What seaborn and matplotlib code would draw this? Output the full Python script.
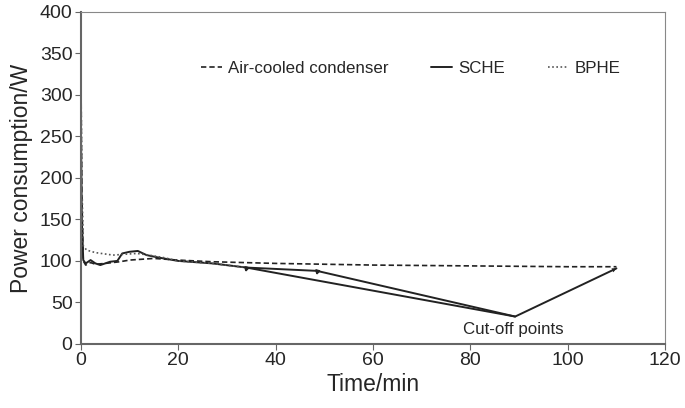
import numpy as np
import pandas as pd
import seaborn as sns
import matplotlib.pyplot as plt

# readings
air_t = [0, 0.2, 0.5, 1, 2, 3, 5, 8, 10, 15, 20, 27, 40, 60, 80, 100, 110]
air_p = [350, 180, 100, 95, 98, 96, 97, 99, 101, 103, 101, 99, 97, 95, 94, 93, 93]

sche_t = [0, 0.2, 0.5, 1, 2, 3, 4, 6, 7.5, 8.5, 10, 11.7, 13.5, 16, 20, 27, 34, 48.5, 89.2, 110]
sche_p = [270, 150, 101, 97, 101, 97, 95, 99, 100, 109, 111, 112, 107, 104, 100, 97, 92, 88, 33, 91]

bphe_t = [0, 0.2, 0.5, 1.2, 3, 6.6, 9, 11.5, 14, 17, 20, 27, 34]
bphe_p = [330, 200, 118, 113, 110, 107, 108, 109, 107, 104, 100, 97, 92]

# second cut-off branch (drawn solid)
cut_t = [34, 89.2]
cut_p = [92, 33]

sns.set_style("white")
plt.rcParams["font.family"] = ["Liberation Sans", "DejaVu Sans"]

fig = plt.figure(figsize=(6.85, 4.08), dpi=100)
ax = fig.add_axes([0.118, 0.157, 0.853, 0.814])

col = "#222222"
df_air = pd.DataFrame({"t": air_t, "p": air_p})
df_sche = pd.DataFrame({"t": sche_t, "p": sche_p})
df_bphe = pd.DataFrame({"t": bphe_t, "p": bphe_p})
df_cut = pd.DataFrame({"t": cut_t, "p": cut_p})

sns.lineplot(data=df_air, x="t", y="p", ax=ax, color=col, lw=1.2,
             linestyle=(0, (3.2, 1.8)), sort=False, label="Air-cooled condenser")
sns.lineplot(data=df_sche, x="t", y="p", ax=ax, color=col, lw=1.4,
             sort=False, label="SCHE")
sns.lineplot(data=df_bphe, x="t", y="p", ax=ax, color="#555555", lw=1.2,
             linestyle=(0, (1, 1.5)), sort=False, label="BPHE")
sns.lineplot(data=df_cut, x="t", y="p", ax=ax, color=col, lw=1.4,
             sort=False, legend=False)

# small arrow heads at the cut-off markers
ax.annotate("", xy=(sche_t[-1], sche_p[-1]), xytext=(sche_t[-2], sche_p[-2]),
            arrowprops=dict(arrowstyle="-|>", color=col, lw=0, mutation_scale=8,
                            shrinkA=0, shrinkB=0))
for i in (16, 17):
    ax.plot(sche_t[i], sche_p[i], marker=(3, 0, -75), color=col, ms=3.5)

ax.text(cut_t[-1] - 0.3, 17, "Cut-off points", ha="center", va="center", fontsize=12.2)

ax.set_xlim(0, 120)
ax.set_ylim(0, 400)
ax.set_xticks(np.arange(0, 121, 20))
ax.set_yticks(np.arange(0, 401, 50))
ax.set_xlabel("Time/min", fontsize=16.5, labelpad=3)
ax.set_ylabel("Power consumption/W", fontsize=16.5, labelpad=5)
ax.tick_params(axis="both", labelsize=14, length=4, width=0.8,
               color="#666666", direction="out", left=True, bottom=True, pad=2)

for s in ("left", "bottom"):
    ax.spines[s].set_color("#666666")
    ax.spines[s].set_linewidth(1.5)
for s in ("top", "right"):
    ax.spines[s].set_color("#888888")
    ax.spines[s].set_linewidth(0.8)

leg = ax.legend(loc="center", bbox_to_anchor=(0.565, 0.83), ncol=3, frameon=False,
                fontsize=12.2, handlelength=1.2, handletextpad=0.4, columnspacing=2.5)

fig.savefig("out.png", dpi=100)
